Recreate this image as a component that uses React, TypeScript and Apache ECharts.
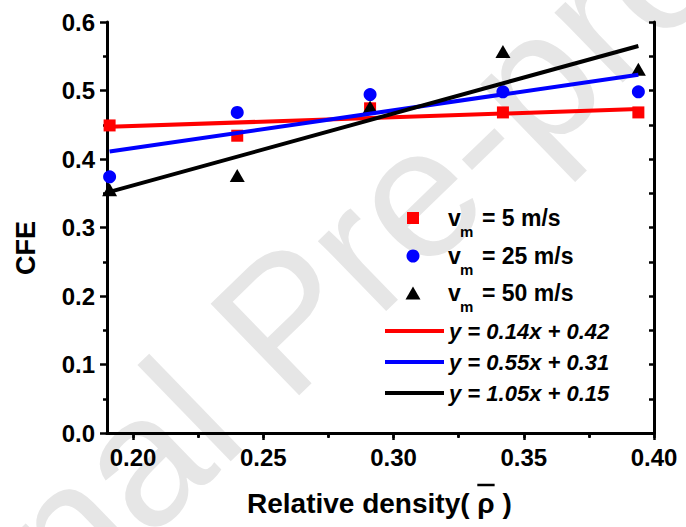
import React, { useEffect, useRef } from "react";
import * as echarts from "echarts";

const xValues = [0.191, 0.240, 0.291, 0.342, 0.394];
const cfe5 = [0.449, 0.434, 0.474, 0.468, 0.468];
const cfe25 = [0.374, 0.468, 0.494, 0.498, 0.498];
const cfe50 = [0.355, 0.376, 0.476, 0.557, 0.531];
const fitX = [0.191, 0.394];
const fit5 = [0.447, 0.473];
const fit25 = [0.411, 0.523];
const fit50 = [0.352, 0.565];
const speedLabels = ["= 5 m/s", "= 25 m/s", "= 50 m/s"];
const fitLabels = ["y = 0.14x + 0.42", "y = 0.55x + 0.31", "y = 1.05x + 0.15"];
const xMajor = [0.2, 0.25, 0.3, 0.35, 0.4];
const xMinor = [0.225, 0.275, 0.325, 0.375];
const yMinor = [0.05, 0.15, 0.25, 0.35, 0.45, 0.55];
const yAll = [0, 0.05, 0.1, 0.15, 0.2, 0.25, 0.3, 0.35, 0.4, 0.45, 0.5, 0.55, 0.6];
const xAll = [0.2, 0.225, 0.25, 0.275, 0.3, 0.325, 0.35, 0.375, 0.4];
const colors = ["#ff0000", "#0000ff", "#000000"];
const xTitle = "Relative density( ρ )";
const yTitle = "CFE";
const watermarkHead = "Journal ";
const watermark = "Journal Pre-proof";

const FONT = '"Liberation Sans", Arial, sans-serif';

function pairs(xs: number[], ys: number[]) {
  return xs.map((x, i) => [x, ys[i]]);
}

export default function App() {
  const ref = useRef<HTMLDivElement>(null);
  useEffect(() => {
    if (!ref.current) return;
    const chart = echarts.init(ref.current, undefined, { renderer: "svg" });

    const ctx = document.createElement("canvas").getContext("2d")!;
    ctx.font = `bold 28px ${FONT}`;
    const titleX = 247;
    const preW = ctx.measureText("Relative density( ").width;
    const rhoW = ctx.measureText("ρ").width;

    // watermark placement: "P" of "Pre" anchored near (244, 360)
    const wmSize = 185;
    ctx.font = `${wmSize}px ${FONT}`;
    const headW = ctx.measureText(watermarkHead).width;
    const theta = (44 * Math.PI) / 180;
    const ax = 244 - headW * Math.cos(theta);
    const ay = 360 + headW * Math.sin(theta);

    const axisLineStyle = { color: "#000", width: 3 };
    const tickStyle = { color: "#000", width: 2.5 };
    const labelStyle = {
      fontSize: 24,
      fontWeight: "bold" as const,
      color: "#000",
      fontFamily: FONT,
    };

    const legendRows = [218, 256, 293];
    const fitRows = [331, 362, 393];
    const graphic: any[] = [
      {
        type: "text",
        x: ax,
        y: ay,
        rotation: theta,
        z: -10,
        silent: true,
        style: {
          text: watermark,
          fontSize: wmSize,
          fontFamily: FONT,
          fill: "#e6e6e6",
          align: "left",
          verticalAlign: "middle",
        },
      },
      {
        type: "text",
        x: 26,
        y: 248,
        rotation: Math.PI / 2,
        style: {
          text: yTitle,
          fontSize: 27,
          fontWeight: "bold",
          fontFamily: FONT,
          fill: "#000",
          align: "center",
          verticalAlign: "middle",
        },
      },
      {
        type: "text",
        x: titleX,
        y: 503,
        style: {
          text: xTitle,
          fontSize: 28,
          fontWeight: "bold",
          fontFamily: FONT,
          fill: "#000",
          align: "left",
          verticalAlign: "middle",
        },
      },
      {
        type: "line",
        shape: { x1: titleX + preW, y1: 485, x2: titleX + preW + rhoW, y2: 485 },
        style: { stroke: "#000", lineWidth: 2.5 },
      },
      // legend markers
      {
        type: "rect",
        shape: { x: 407, y: legendRows[0] - 6, width: 12, height: 12 },
        style: { fill: colors[0] },
      },
      {
        type: "circle",
        shape: { cx: 413, cy: legendRows[1], r: 6.5 },
        style: { fill: colors[1] },
      },
      {
        type: "polygon",
        shape: {
          points: [
            [405.5, legendRows[2] + 6.5],
            [420.5, legendRows[2] + 6.5],
            [413, legendRows[2] - 6.5],
          ],
        },
        style: { fill: colors[2] },
      },
    ];
    speedLabels.forEach((t, i) => {
      const y = legendRows[i];
      graphic.push(
        {
          type: "text",
          x: 448,
          y,
          style: { text: "v", fontSize: 23, fontWeight: "bold", fontFamily: FONT, fill: "#000", verticalAlign: "middle" },
        },
        {
          type: "text",
          x: 460,
          y: y + 13,
          style: { text: "m", fontSize: 15, fontWeight: "bold", fontFamily: FONT, fill: "#000", verticalAlign: "middle" },
        },
        {
          type: "text",
          x: 482,
          y,
          style: { text: t, fontSize: 23, fontWeight: "bold", fontFamily: FONT, fill: "#000", verticalAlign: "middle" },
        }
      );
    });
    fitLabels.forEach((t, i) => {
      const y = fitRows[i];
      graphic.push(
        {
          type: "line",
          shape: { x1: 385, y1: y, x2: 444, y2: y },
          style: { stroke: colors[i], lineWidth: 4 },
        },
        {
          type: "text",
          x: 449,
          y,
          style: {
            text: t,
            fontSize: 22,
            fontWeight: "bold",
            fontStyle: "italic",
            fontFamily: FONT,
            fill: "#000",
            verticalAlign: "middle",
          },
        }
      );
    });

    const scatter = (data: number[][], symbol: string, size: any, color: string) => ({
      type: "scatter",
      data,
      symbol,
      symbolSize: size,
      itemStyle: { color, opacity: 1 },
      z: 3,
    });
    const fitLine = (data: number[][], color: string) => ({
      type: "line",
      data,
      symbol: "none",
      lineStyle: { color, width: 4 },
      z: 4,
    });

    chart.setOption({
      animation: false,
      backgroundColor: "#ffffff",
      grid: { left: 107, right: 32, top: 22, bottom: 94, containLabel: false },
      xAxis: [
        {
          type: "value",
          min: 0.19,
          max: 0.4,
          position: "bottom",
          axisLine: { lineStyle: axisLineStyle },
          axisTick: { customValues: xMajor, length: 7, lineStyle: tickStyle },
          axisLabel: { customValues: xMajor, formatter: (v: number) => v.toFixed(2), margin: 12, ...labelStyle },
          splitLine: { show: false },
        },
        {
          type: "value",
          min: 0.19,
          max: 0.4,
          position: "bottom",
          axisLine: { show: false },
          axisTick: { customValues: xMinor, length: 4, lineStyle: tickStyle },
          axisLabel: { show: false },
          splitLine: { show: false },
        },
        {
          type: "value",
          min: 0.19,
          max: 0.4,
          position: "top",
          axisLine: { lineStyle: axisLineStyle },
          axisTick: { customValues: xAll, inside: true, length: 5, lineStyle: tickStyle },
          axisLabel: { show: false },
          splitLine: { show: false },
        },
      ],
      yAxis: [
        {
          type: "value",
          min: 0,
          max: 0.6,
          interval: 0.1,
          position: "left",
          axisLine: { lineStyle: axisLineStyle },
          axisTick: { length: 7, lineStyle: tickStyle },
          axisLabel: { formatter: (v: number) => v.toFixed(1), margin: 12, ...labelStyle },
          splitLine: { show: false },
        },
        {
          type: "value",
          min: 0,
          max: 0.6,
          position: "left",
          axisLine: { show: false },
          axisTick: { customValues: yMinor, length: 4, lineStyle: tickStyle },
          axisLabel: { show: false },
          splitLine: { show: false },
        },
        {
          type: "value",
          min: 0,
          max: 0.6,
          position: "right",
          axisLine: { lineStyle: axisLineStyle },
          axisTick: { customValues: yAll, inside: true, length: 5, lineStyle: tickStyle },
          axisLabel: { show: false },
          splitLine: { show: false },
        },
      ],
      series: [
        scatter(pairs(xValues, cfe5), "rect", 12, colors[0]),
        scatter(pairs(xValues, cfe25), "circle", 13, colors[1]),
        scatter(pairs(xValues, cfe50), "triangle", [15, 13], colors[2]),
        fitLine(pairs(fitX, fit5), colors[0]),
        fitLine(pairs(fitX, fit25), colors[1]),
        fitLine(pairs(fitX, fit50), colors[2]),
      ],
      graphic,
    });
    return () => chart.dispose();
  }, []);
  return (
    <div
      ref={ref}
      style={{ position: "absolute", left: 0, top: 0, width: 686, height: 527 }}
    />
  );
}
